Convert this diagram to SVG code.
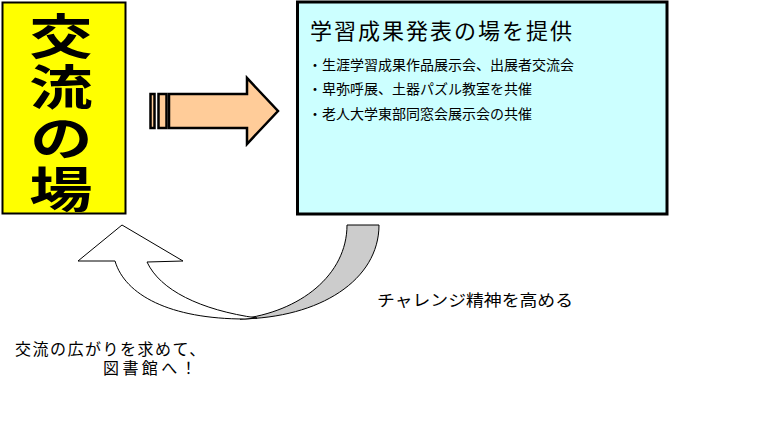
<svg xmlns="http://www.w3.org/2000/svg" width="764" height="440" viewBox="0 0 764 440">
<style>
text{font-family:"Noto Sans CJK JP","Noto Sans",sans-serif;fill:#000}
.big{font-size:48px;font-weight:bold;writing-mode:vertical-rl;letter-spacing:3px}
.title{font-size:22px;letter-spacing:2px}
.item{font-size:14px}
.lbl{font-size:16px}
.lbl2{font-family:"Liberation Sans","Noto Sans CJK JP",sans-serif;font-size:16px}
.thin{stroke:#000;stroke-width:1}
</style>
<rect width="764" height="440" fill="#fff"/>
<g id="node-koryu">
<rect x="2.5" y="2.5" width="123" height="211" fill="#ffff00" stroke="#000" stroke-width="2"/>
<g transform="translate(61,0) scale(1.32,1)">
<text class="big" x="0" y="12">交流の場</text>
</g>
</g>
<g id="node-hatsu">
<rect x="297.5" y="2" width="369.5" height="212" fill="#ccffff" stroke="#000" stroke-width="3"/>
<text class="title" x="310" y="39">学習成果発表の場を提供</text>
<text class="item" x="308" y="70">・生涯学習成果作品展示会、出展者交流会</text>
<text class="item" x="308" y="94">・卑弥呼展、土器パズル教室を共催</text>
<text class="item" x="308" y="119">・老人大学東部同窓会展示会の共催</text>
</g>
<g id="connectors">
<g id="block-arrow" fill="#ffcc99" stroke="#000" stroke-width="2.5" stroke-linejoin="miter">
<rect x="150.5" y="94" width="4" height="34"/>
<rect x="158.5" y="94" width="8" height="34"/>
<polygon points="169,94 247,94 247,78 278,111 247,144 247,128 169,128"/>
</g>
<g id="curved-arrow" class="thin">
<path d="M347,225 L379,225 C379,280 320,318 240,319 C300,312 347,275 347,225 Z" fill="#cccccc"/>
<path d="M115,261 L78,261 L122,225 L183,261 L147,262 C160,290 200,310 257,318 L245,319 C170,319 125,295 115,261 Z" fill="#ffffff"/>
</g>
</g>
<g id="labels">
<text class="lbl" x="377" y="306" textLength="196" lengthAdjust="spacingAndGlyphs">チャレンジ精神を高める</text>
<text class="lbl2" lang="ja"><tspan x="15" y="355" letter-spacing="1.5">交流の広がりを求めて、</tspan><tspan x="103" y="374" letter-spacing="3.4">図書館へ！</tspan></text>
</g>
</svg>
